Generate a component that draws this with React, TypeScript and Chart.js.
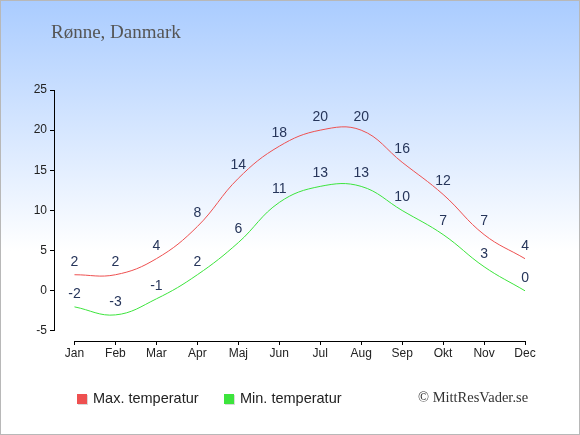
import { useEffect, useRef } from 'react';
import { Chart, registerables } from 'chart.js';

Chart.register(...registerables);

const months = ['Jan', 'Feb', 'Mar', 'Apr', 'Maj', 'Jun', 'Jul', 'Aug', 'Sep', 'Okt', 'Nov', 'Dec'];
const maxTemp = [2, 2, 4, 8, 14, 18, 20, 20, 16, 12, 7, 4];
const minTemp = [-2, -3, -1, 2, 6, 11, 13, 13, 10, 7, 3, 0];
const yTicks = [-5, 0, 5, 10, 15, 20, 25];

const RED = 'rgb(238, 80, 80)';
const GREEN = 'rgb(60, 228, 60)';

const extrasPlugin = {
  id: 'extras',
  afterDatasetsDraw(chart: any) {
    const { ctx, chartArea, scales } = chart;
    const x = scales.x;
    const y = scales.y;
    ctx.save();

    // axis lines
    ctx.strokeStyle = '#000';
    ctx.lineWidth = 1;
    const ax = Math.round(chartArea.left) + 0.5;
    ctx.beginPath();
    ctx.moveTo(ax, y.getPixelForValue(yTicks[yTicks.length - 1]));
    ctx.lineTo(ax, y.getPixelForValue(yTicks[0]));
    ctx.stroke();
    const ay = Math.round(chartArea.bottom) + 0.5;
    ctx.beginPath();
    ctx.moveTo(x.getPixelForValue(0), ay);
    ctx.lineTo(x.getPixelForValue(months.length - 1), ay);
    ctx.stroke();

    // value labels
    ctx.font = '14px "Liberation Sans", Arial, sans-serif';
    ctx.fillStyle = '#26355a';
    ctx.textAlign = 'center';
    ctx.textBaseline = 'middle';
    chart.data.datasets.forEach((ds: any, i: number) => {
      const meta = chart.getDatasetMeta(i);
      meta.data.forEach((pt: any, j: number) => {
        ctx.fillText(String(ds.data[j]), pt.x, pt.y - 13);
      });
    });

    // title
    ctx.font = '19px "Liberation Serif", serif';
    ctx.fillStyle = '#555';
    ctx.textAlign = 'left';
    ctx.textBaseline = 'alphabetic';
    ctx.fillText('Rønne, Danmark', 51, 38);

    // legend
    const items = [
      { label: 'Max. temperatur', color: RED, x: 77 },
      { label: 'Min. temperatur', color: GREEN, x: 224 },
    ];
    ctx.font = '14.5px "Liberation Sans", Arial, sans-serif';
    ctx.textBaseline = 'middle';
    items.forEach((it) => {
      ctx.fillStyle = 'rgba(0,0,0,0.15)';
      ctx.fillRect(it.x + 1, 395, 10, 10);
      ctx.fillStyle = it.color;
      ctx.fillRect(it.x, 394, 10, 10);
      ctx.fillStyle = '#222';
      ctx.fillText(it.label, it.x + 16, 399);
    });

    ctx.font = '14.5px "Liberation Serif", serif';
    ctx.fillStyle = '#333';
    ctx.fillText('© MittResVader.se', 418, 398);
    ctx.restore();
  },
};

export default function App() {
  const canvasRef = useRef<HTMLCanvasElement>(null);
  const chartRef = useRef<Chart | null>(null);

  useEffect(() => {
    document.body.style.margin = '0';
    if (!canvasRef.current) return;
    if (chartRef.current) chartRef.current.destroy();

    chartRef.current = new Chart(canvasRef.current, {
      type: 'line',
      data: {
        labels: months,
        datasets: [
          {
            label: 'Max. temperatur',
            data: maxTemp,
            borderColor: RED,
            borderWidth: 1,
            pointRadius: 0,
            tension: 0.4,
            fill: false,
          },
          {
            label: 'Min. temperatur',
            data: minTemp,
            borderColor: GREEN,
            borderWidth: 1,
            pointRadius: 0,
            tension: 0.4,
            fill: false,
          },
        ],
      },
      plugins: [extrasPlugin],
      options: {
        responsive: false,
        animation: false,
        layout: { padding: { top: 90, right: 34.5, left: 0, bottom: 0 } },
        plugins: {
          legend: { display: false },
          tooltip: { enabled: false },
        },
        scales: {
          x: {
            offset: true,
            grid: {
              offset: false,
              drawOnChartArea: false,
              drawTicks: true,
              tickLength: 4,
              color: '#000',
            },
            border: { display: false },
            ticks: {
              padding: 1,
              color: '#222',
              font: { size: 12, family: '"Liberation Sans", Arial, sans-serif' },
              maxRotation: 0,
            },
            afterFit: (s: any) => {
              s.height = 94;
            },
          },
          y: {
            min: -6.25,
            max: 25,
            grid: {
              drawOnChartArea: false,
              drawTicks: true,
              tickLength: 4,
              color: '#000',
            },
            border: { display: false },
            ticks: {
              padding: 3,
              color: '#222',
              font: { size: 12, family: '"Liberation Sans", Arial, sans-serif' },
            },
            afterBuildTicks: (s: any) => {
              s.ticks = yTicks.map((v) => ({ value: v }));
            },
            afterFit: (s: any) => {
              s.width = 54;
            },
          },
        },
      },
    });

    return () => {
      if (chartRef.current) {
        chartRef.current.destroy();
        chartRef.current = null;
      }
    };
  }, []);

  return (
    <div
      style={{
        position: 'relative',
        width: 580,
        height: 435,
        boxSizing: 'border-box',
        border: '1px solid #b8b8b8',
        background: 'linear-gradient(to bottom, #aaccff 0px, #ffffff 250px, #ffffff 435px)',
      }}
    >
      <canvas
        ref={canvasRef}
        width={580}
        height={435}
        style={{ position: 'absolute', left: -1, top: -1, width: 580, height: 435 }}
      />
    </div>
  );
}
